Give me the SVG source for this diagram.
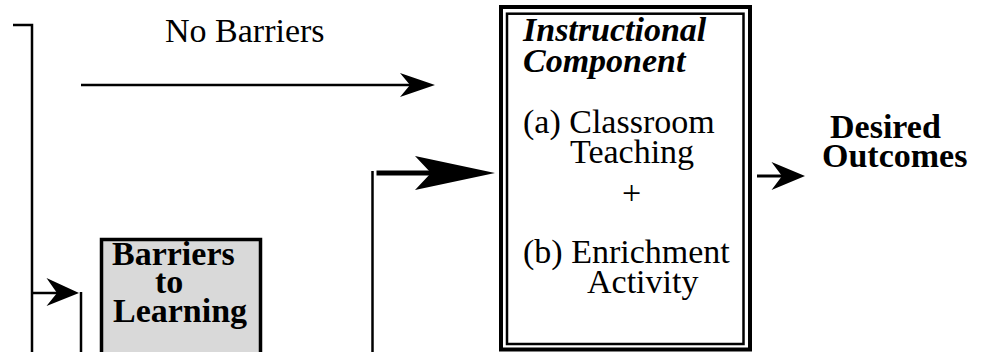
<svg xmlns="http://www.w3.org/2000/svg" width="986" height="352" viewBox="0 0 986 352">
<style>
text{font-family:"Liberation Serif","Times New Roman",serif;font-size:34px;fill:#000}
.b{font-weight:bold}
.bi{font-weight:bold;font-style:italic}
.ln{fill:none;stroke:#000;stroke-width:2.5}
.ah{fill:#000;stroke:none}
</style>
<rect width="986" height="352" fill="#fff"/>
<g id="barriers">
<rect x="101.5" y="239.5" width="159" height="130" fill="#d9d9d9" stroke="#000" stroke-width="3.5"/>
<text class="b" x="112" y="265">Barriers</text>
<text class="b" x="155" y="293">to</text>
<text class="b" x="113" y="322">Learning</text>
</g>
<g id="instructional">
<rect x="501" y="7" width="249" height="342.5" fill="#fff" stroke="#000" stroke-width="4"/>
<rect x="507" y="13.7" width="236.5" height="330.3" fill="none" stroke="#000" stroke-width="2.5"/>
<text class="bi" x="523" y="41">Instructional</text>
<text class="bi" x="523" y="72">Component</text>
<text x="523" y="133">(a) Classroom</text>
<text x="570" y="163">Teaching</text>
<text x="631.5" y="204" text-anchor="middle">+</text>
<text x="523" y="263">(b) Enrichment</text>
<text x="587" y="293">Activity</text>
</g>
<g id="outcomes">
<text class="b" x="830" y="138">Desired</text>
<text class="b" x="822" y="167">Outcomes</text>
</g>
<g id="label-no-barriers">
<text x="165" y="42">No Barriers</text>
</g>
<g id="connectors">
<polyline class="ln" points="13,25 32,25 32,352"/>
<line class="ln" x1="81" y1="85" x2="410" y2="85"/>
<path class="ah" d="M435,85 L400,73 L410,85 L400,97 Z"/>
<line class="ln" x1="32" y1="293" x2="60" y2="293"/>
<path class="ah" d="M79,293 L46.5,278 L57,293 L46.5,306 Z"/>
<line class="ln" x1="81" y1="292" x2="81" y2="352"/>
<line class="ln" x1="372.5" y1="171" x2="372.5" y2="352"/>
<line x1="376.5" y1="173" x2="440" y2="173" stroke="#000" stroke-width="5"/>
<path class="ah" d="M495,173 L415,156 L431,173 L415,190 Z"/>
<line x1="757" y1="176" x2="785" y2="176" stroke="#000" stroke-width="3"/>
<path class="ah" d="M805,176 L771.5,162 L782,176 L771.5,190 Z"/>
</g>
</svg>
